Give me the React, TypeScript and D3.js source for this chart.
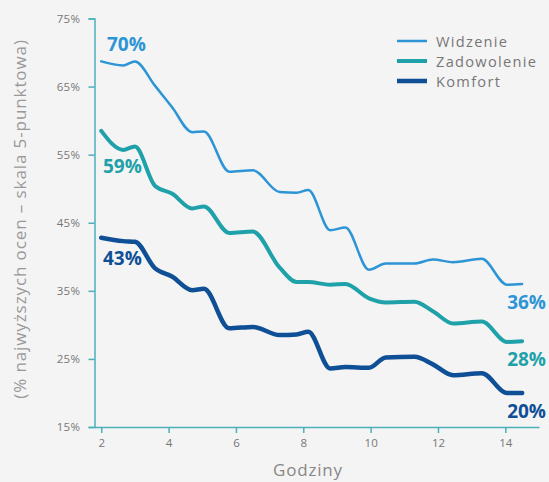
import React, { useEffect, useRef } from "react";
import * as d3 from "d3";

const hours = [2, 2.65, 3, 3.6, 4.1, 4.7, 5.05, 5.8, 6.5, 7.3, 7.8, 8.15, 8.8, 9.25, 9.95, 10.45, 11.3, 11.85, 12.45, 13.3, 14.05, 14.5];
const widzenie = [68.7, 68.1, 68.7, 65.1, 62.0, 58.3, 58.4, 52.5, 52.7, 49.5, 49.4, 49.8, 43.9, 44.3, 38.1, 39.0, 39.0, 39.6, 39.2, 39.7, 35.9, 36.0];
const zadowolenie = [58.5, 55.7, 56.2, 50.4, 49.3, 47.1, 47.4, 43.5, 43.7, 38.4, 36.3, 36.3, 35.9, 36.0, 33.9, 33.3, 33.4, 32.0, 30.2, 30.5, 27.5, 27.6];
const komfort = [42.8, 42.3, 42.2, 38.3, 37.1, 35.1, 35.3, 29.5, 29.7, 28.5, 28.6, 29.0, 23.6, 23.8, 23.7, 25.2, 25.3, 24.2, 22.6, 22.9, 20.0, 20.0];

const seriesNames = ["Widzenie", "Zadowolenie", "Komfort"];
const seriesColors = ["#2d94d5", "#1fa1aa", "#0e4f95"];
const seriesWidths = [2.5, 4, 4.5];
const startLabels = ["70%", "59%", "43%"];
const endLabels = ["36%", "28%", "20%"];
const xTicks = [2, 4, 6, 8, 10, 12, 14];
const yTicks = [15, 25, 35, 45, 55, 65, 75];

function App() {
  const ref = useRef<SVGSVGElement>(null);

  useEffect(() => {
    drawChart();
  }, []);

  const drawChart = () => {
    const w = 549;
    const h = 482;
    const svg = d3.select(ref.current);
    svg.selectAll("*").remove();

    svg.append("rect").attr("width", w).attr("height", h).attr("fill", "#f4f4f4");

    const x = d3.scaleLinear().domain([1.8, 15]).range([94.5, 539]);
    const y = d3.scaleLinear().domain([15, 75]).range([427, 18.5]);
    const axisColor = "#4bb0bb";
    const font = "'Open Sans', sans-serif";

    // y axis
    const gy = svg.append("g").attr("transform", "translate(94.5,0)")
      .call(d3.axisLeft(y).tickValues(yTicks).tickSize(6).tickPadding(8).tickFormat((d) => d + "%"));
    gy.select(".domain").attr("stroke", axisColor).attr("stroke-width", 1.5);
    gy.selectAll(".tick line").attr("stroke", axisColor).attr("stroke-width", 1.5);
    gy.selectAll(".tick text").attr("fill", "#777").style("font-family", font)
      .style("font-size", "11.5px").style("letter-spacing", "0.4px");

    // x axis
    const gx = svg.append("g").attr("transform", "translate(0,427)")
      .call(d3.axisBottom(x).tickValues(xTicks).tickSize(6).tickPadding(6).tickSizeOuter(0));
    gx.select(".domain").attr("stroke", axisColor).attr("stroke-width", 1.5);
    gx.selectAll(".tick line").attr("stroke", axisColor).attr("stroke-width", 1.5);
    gx.selectAll(".tick text").attr("fill", "#777").style("font-family", font).style("font-size", "11.5px");

    svg.append("text").text("Godziny")
      .attr("x", 308).attr("y", 476).attr("text-anchor", "middle")
      .attr("fill", "#888").style("font-family", font).style("font-size", "17px")
      .style("letter-spacing", "0.8px");

    svg.append("text").text("(% najwyższych ocen – skala 5-punktowa)")
      .attr("transform", "translate(26,219) rotate(-90)").attr("text-anchor", "middle")
      .attr("fill", "#999").style("font-family", font).style("font-size", "17px")
      .style("letter-spacing", "0.9px");

    const allSeries = [widzenie, zadowolenie, komfort];
    const line = d3.line<number>()
      .x((d, i) => x(hours[i]))
      .y((d) => y(d))
      .curve(d3.curveMonotoneX);

    // draw bottom series first
    [2, 1, 0].forEach((k) => {
      svg.append("path")
        .datum(allSeries[k])
        .attr("d", line)
        .attr("fill", "none")
        .attr("stroke", seriesColors[k])
        .attr("stroke-width", seriesWidths[k])
        .attr("stroke-linecap", "round")
        .attr("stroke-linejoin", "round");
    });

    // value labels
    const startOffsets = [-10, 42, 27];
    const endOffsets = [25, 25, 25];
    allSeries.forEach((s, k) => {
      svg.append("text").text(startLabels[k])
        .attr("x", k === 0 ? 107 : 103)
        .attr("y", y(s[0]) + startOffsets[k])
        .attr("fill", seriesColors[k])
        .style("font-family", font).style("font-weight", 700).style("font-size", "19px");
      svg.append("text").text(endLabels[k])
        .attr("x", 546).attr("text-anchor", "end")
        .attr("y", y(s[s.length - 1]) + endOffsets[k])
        .attr("fill", seriesColors[k])
        .style("font-family", font).style("font-weight", 700).style("font-size", "19px");
    });

    // legend
    seriesNames.forEach((name, k) => {
      const ly = 41 + k * 20;
      svg.append("line")
        .attr("x1", 397).attr("x2", 427).attr("y1", ly).attr("y2", ly)
        .attr("stroke", seriesColors[k]).attr("stroke-width", seriesWidths[k]);
      svg.append("text").text(name)
        .attr("x", 436).attr("y", ly + 5.5)
        .attr("fill", "#777")
        .style("font-family", font).style("font-size", "14.6px").style("letter-spacing", "1.3px");
    });
  };

  return (
    <svg ref={ref} width={549} height={482} style={{ position: "absolute", left: 0, top: 0 }} />
  );
}

export default App;
